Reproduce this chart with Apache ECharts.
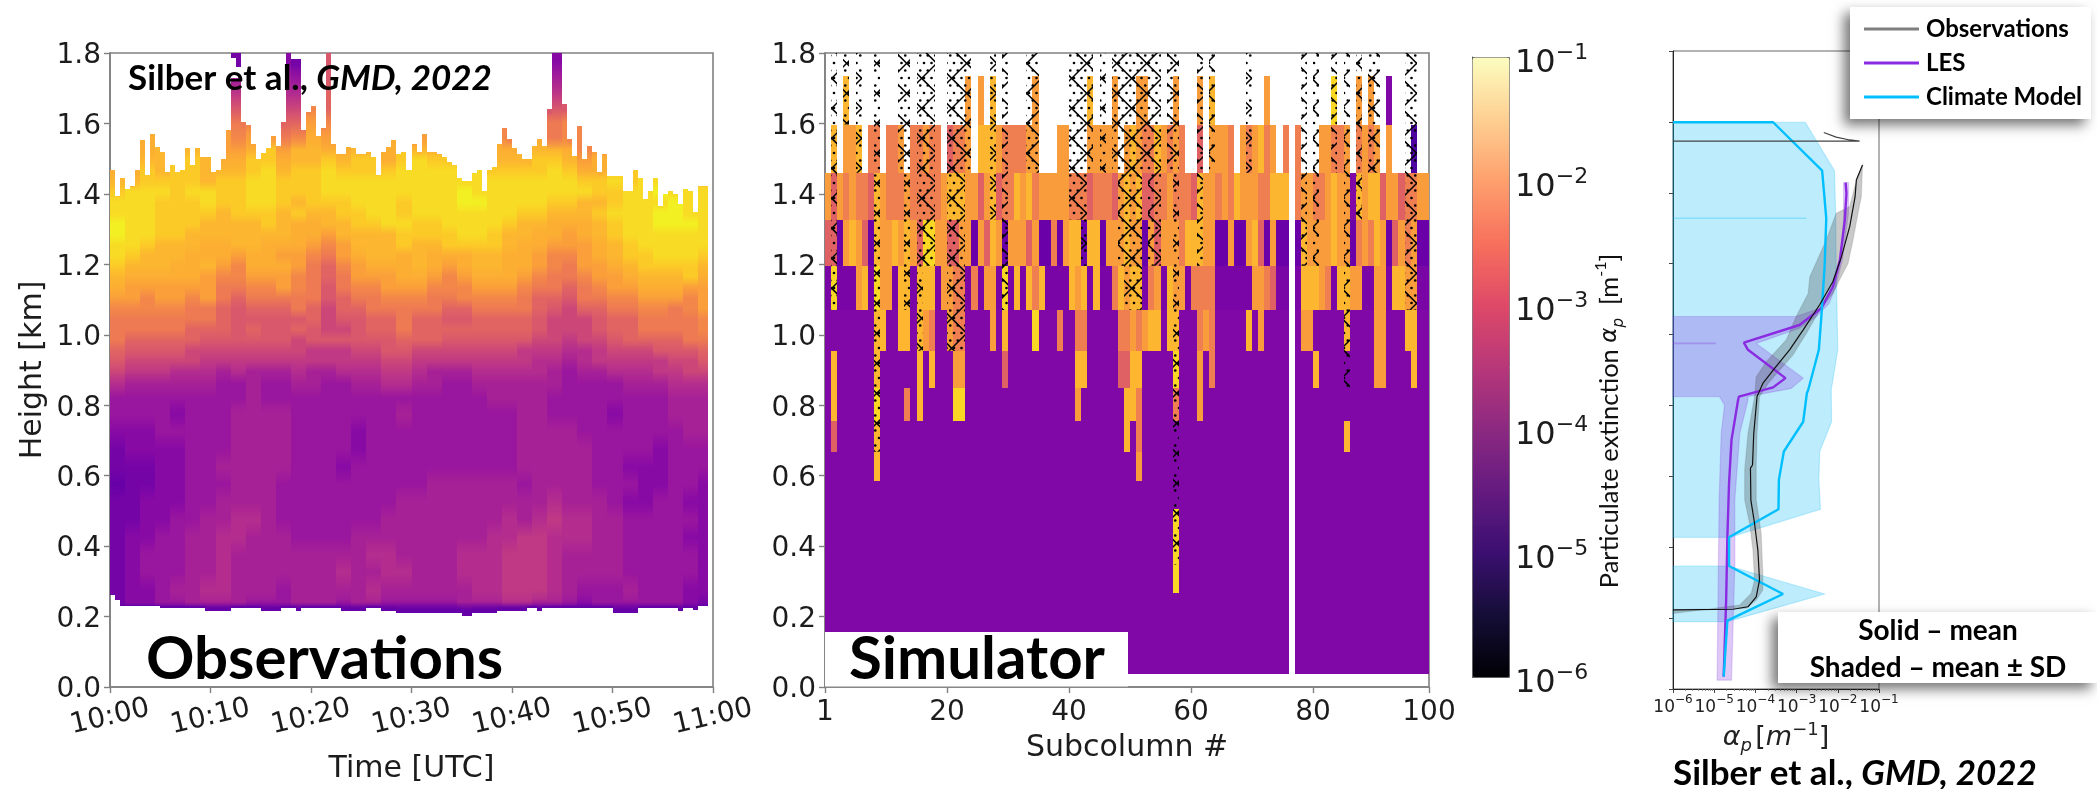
<!DOCTYPE html>
<html><head><meta charset="utf-8">
<style>html,body{margin:0;padding:0;background:#fff}#c{width:2097px;height:789px}</style>
<script src="https://cdn.jsdelivr.net/npm/echarts@6/dist/echarts.min.js"></script>
</head><body><div id="c"></div>
<script>
/* ---------- Observations panel ---------- */
const obsTimeTicks = ['10:00','10:10','10:20','10:30','10:40','10:50','11:00'];
const obsTop = [1.467,1.395,1.446,1.415,1.423,1.467,1.553,1.453,1.571,1.534,
1.519,1.461,1.483,1.461,1.467,1.529,1.483,1.529,1.505,1.505,
1.461,1.467,1.498,1.581,1.73,1.73,1.605,1.595,1.541,1.498,
1.515,1.529,1.565,1.536,1.603,1.8,1.782,1.782,1.581,1.633,
1.649,1.565,1.588,1.8,1.543,1.513,1.513,1.534,1.529,1.513,
1.513,1.519,1.505,1.453,1.519,1.534,1.553,1.513,1.519,1.469,
1.543,1.519,1.571,1.519,1.519,1.513,1.505,1.491,1.483,1.446,
1.437,1.437,1.460,1.467,1.408,1.469,1.475,1.541,1.588,1.557,
1.529,1.513,1.498,1.498,1.536,1.557,1.536,1.640,1.8,1.8,
1.655,1.557,1.507,1.593,1.498,1.536,1.519,1.463,1.513,1.451,
1.451,1.451,1.408,1.408,1.469,1.446,1.385,1.408,1.446,1.365,
1.401,1.408,1.401,1.371,1.415,1.408,1.349,1.423,1.423];
const obsBase = [.261,.247,.23,.23,.23,.23,.23,.23,.23,.23,
.224,.224,.224,.224,.224,.224,.224,.224,.224,.217,.217,.217,.217,.217,
.223,.223,.223,.223,.223,.223,.217,.217,.217,.217,.223,.223,.223,.217,
.223,.223,.223,.223,.223,.223,.223,.223,.217,.217,.217,.217,.217,
.223,.223,.223,.217,.217,.217,.209,.209,.209,.209,.209,.209,.209,.209,.209,.209,.209,.209,.209,
.202,.202,.209,.209,.209,.209,.209,.217,.217,.217,.217,.217,.217,.223,.223,.217,
.223,.223,.223,.223,.223,.223,.223,.223,.223,.223,.223,.223,.223,.223,
.209,.209,.209,.209,.209,.223,.223,.223,.223,.223,.223,.223,.223,.217,.223,.223,.22,.23,.23];
// height edges of the read-off rows, top to bottom
const obsRowEdges = [1.80,1.75,1.70,1.66,1.62,1.58,1.54,1.51,1.48,1.45,1.42,1.39,1.36,1.33,1.30,1.27,1.24,1.21,1.18,1.15,1.12,1.09,1.06,1.03,1.00,.97,.94,.91,.88,.84,.80,.75,.70,.65,.60,.55,.50,.45,.40,.35,.30,.25,.232,.195];
// letter -> log10(extinction)
const obsLetters = 'abcdefghijklmnopqr';
const obsLetterLog = [-5.05,-4.85,-4.6,-4.35,-4.15,-3.95,-3.75,-3.5,-3.2,-3.0,-2.65,-2.45,-2.1,-1.9,-1.8,-1.55,-1.35,-1.1];
// 40 groups of three time columns each
const obsGrid = [
"........b. .cb.i..... .........c ..........",
"........e. .ed.i..... .........e ..........",
"........g. .ff.j..... .........g ..........",
"........i. .hhlj..... .........i i.........",
"........kl .jjml..... .........k ll........",
"..n....mlm mklnm...n. m.....l.nk ll........",
"oonooonmmn pmoonnoonp ooooonnooo nlmnooooon",
"ppoopponnp pnoopoppnp qppppooopp omnoppppoo",
"nnpoppooop qoppqppppq qqqqqppppq pnnppqqpqq",
"ooppppoppq qpppqqqqqq qqqqqqqqqq qppqpqqqpp",
"pqqqpqqppq qpppqqqqqq qqqrqqqqqq qqppqqrqqq",
"qqqpppqppq qpopppqqqp qqqrrqqqqp poopqqqrqq",
"qqqppppopp popooppqqp qqqqqqqppo oopqqqrrqq",
"rqqpppoooo ponnooppqq ppqqqqpoon nnopqqrrrq",
"rqqppooooo oonnmoooop pppqqpoonn mnopqqqqqq",
"qqpooonnoo nnnmlmooop oopppponnm mmnopqqqqq",
"qpooonnnmn nmmlkmnoon onnnoonnml lmnoppqqqp",
"pooonnomln nnmkjlmnnn onmnoonnml kmmnoppppo",
"onnnnnmllm mmlkjkmmmn nmlmnnnmlk klmmnooopn",
"nmmmmmmkkl lmlkikllmm mlllmmmlkk jklmmnnnmm",
"mmlmmlmkjk kkkkijkkll lkkllllkjj ikkllmmmlm",
"lllllkkjij jjkjhjjkkk kkjjkkkkji hjjkkllklm",
"kkkkkkkjii iiijhiijjk jjiijjjjih hhijjkkkkl",
"kkkkkjjjij iijihhijjk jjjjjjjjih hhijjkkkkl",
"kjjjjjiiii iihiiiiiij jjiiiiiihh ghhijjjjkk",
"jiiiihhhhh hhhggghhii hhhhhhhggg ffghhhiiij",
"ihhhhhgggg gggggggghh ggggggggff efggggghhi",
"hgggfffefe eefeefffgg feeefffffe deefffgghh",
"feeeeeedde ddeeddeeff eeddeeeeee ddddeeefff",
"ddddddddde dddddddddd dddddeeeed dddddddeee",
"ddddcdddee eeddddddde dddddddeed dddcdddeee",
"cccdddddee eeddddcddd dddddddeee edddddddee",
"bccccdddee eeddddcddd dddddddeee eeddddcddd",
"bbbccddeee eedddcdddd dddddddeee eeddcccddd",
"abbccdddee eddddddddd deeeeeedee eedddccddc",
"bbcccddeee edddddddde eeeeeeeeef eeedccddcc",
"bbccddeeff edddddddee eeeeeefefg ffeedddddc",
"bccddeeffe eeddddeeee eeeeeffggf ffeeddddcc",
"bcdddeefee eeeeeeeffe eeefffgggf eeeedddddc",
"bcdddeefee eeeeefeeff eeefffgggf eeeedddddc",
"bccdeeffee edeeeeefee eeeeffgggf edddedddcc",
"bccddeeeed ddeeedeedd dddeeeffee dcddddddcb",
"aaaaaaaaaa aaaaaaaaaa aaaaaaaaaa aaaaaaaaaa"
];
// small detached pieces near the top of the first spike: column, bottom, top, log10
const obsIslandCol = [24,25];
const obsIslandBottom = [1.785,1.76];
const obsIslandTop = [1.8,1.8];
const obsIslandLog = [-4.85,-4.85];

/* ---------- Simulator panel ---------- */
const simTicks = [0,20,40,60,80,99];
const simTickText = {0:'1',20:'20',40:'40',60:'60',80:'80',99:'100'};
const simRowEdges = [1.736,1.597,1.46,1.327,1.196,1.07,.955,.849,.754,.668,.586,.506,.347,.267,.037];
const simLetters = 'puvdosyYr';
const simLetterLog = [-4.7,-4.8,-5.0,-5.35,-2.15,-2.6,-1.8,-1.4,-3.05];
const simRows = [
"...y...... .......... ...o.o.y.. ....o..... ...y...o.. .oo....o.. .o.y...... ..o....... ...Y...o.o ..p......",
".y.ooy.ss. sso.ssoss. rsso.yyyos sssoo...oo ...ooooo.o yossyosos. .r.ooos.os oyso.s.s.. .oosso.sos o.o...d..",
"orosossryo sssossssso yyyooroyrs syoysooooo sssrsssroy oyrrssosss ryoososyoo ossyyy.soo ssoyoopyoy yroorssoo",
"rrvoyorvyo oyoyorYYoo rroovoryov ooorovvsvo yyvyyvoooy oovorooosy yyoovvovvo yrvovv.vyo oooyoovsos yovrosovv",
"uYuuuoyuYo ouyyuyyyuo ossusuoouY uyuysyuuuu yoyuyuusyo yyusouyoou ssssuuuuuu oosruu.uyy yosuyyoouu oouyyoouu",
"ppppppppyy ppyypyospp ossppppopy ppppYpppsp psspppppss osoyypyypp psospppppy popppp.poo pppppypppp oopppyypp",
"pyppppppyp pppppypypp pooppppppr pppppppppp pyyppppprr yypppppYpp popspppppp pppppp.ppp yppppppppp ooppppypp",
"pyppppppYp pppspypppp pYYppppppp pppppppppp popppppppy yspppppspp popppppppp pppppp.ppp pppppppppp ppppppppp",
"prppppppyp pppppppppp pppppppppp pppppppppp pppppppppy pspppppppp pppppppppp pppppp.ppp pppppypppp ppppppppp",
"ppppppppyp pppppppppp pppppppppp pppppppppp pppppppppp popppppppp pppppppppp pppppp.ppp pppppppppp ppppppppp",
"pppppppppp pppppppppp pppppppppp pppppppppp pppppppppp pppppppppp pppppppppp pppppp.ppp pppppppppp ppppppppp",
"pppppppppp pppppppppp pppppppppp pppppppppp pppppppppp pppppppYpp pppppppppp pppppp.ppp pppppppppp ppppppppp",
"pppppppppp pppppppppp pppppppppp pppppppppp pppppppppp pppppppYpp pppppppppp pppppp.ppp pppppppppp ppppppppp",
"pppppppppp pppppppppp pppppppppp pppppppppp pppppppppp pppppppppp pppppppppp pppppp.ppp pppppppppp ppppppppp"
];
// hatched subcolumns: first column, last column, lowest height (all start at the panel top)
const hatchFrom   = [1,3,5,8,12,13,15,16,20,23,27,29,33,40,42,43,45,47,48,49,52,53,56,57,61,63,69,78,80,83,85,87,89,95];
const hatchTo     = [1,3,5,8,12,13,15,17,22,23,27,29,34,41,42,43,45,47,48,51,52,54,56,57,61,63,69,78,80,83,85,87,90,96];
const hatchBottom = [1.07,1.597,1.46,.668,1.46,1.07,.955,1.196,.955,1.46,1.327,1.07,1.46,1.327,1.196,1.46,1.46,1.46,1.196,1.07,1.46,1.196,1.46,.347,1.196,1.46,1.46,1.196,1.196,1.46,.849,1.327,1.46,1.07];

/* ---------- Profile panel: log10(extinction) and height [km] ---------- */
const obsMeanLog = [-1.40,-1.55,-1.58,-1.71,-1.91,-2.12,-2.44,-2.84,-3.17,-3.53,-3.82,-3.96,-4.04,-4.07,-4.12,-4.11,-4.02,-3.94,-3.90,-3.98,-4.18,-4.54,-6];
const obsMeanH   = [1.4785,1.436,1.389,1.305,1.220,1.149,1.084,1.013,.957,.905,.862,.825,.721,.632,.623,.533,.467,.392,.307,.260,.232,.225,.223];
const obsUpperLog = [-2.34,-2.04,-1.71,-1.47,-6];
const obsUpperH   = [1.570,1.557,1.549,1.546,1.546];
const obsBandLog = [-1.40,-1.43,-1.51,-1.63,-1.75,-1.96,-2.12,-2.44,-2.76,-3.09,-3.41,-3.69,-3.90,-3.96,-3.98,-3.98,-3.86,-3.82,-3.82,-3.98,-4.22,-6,-6,-4.38,-4.10,-4.02,-4.06,-4.14,-4.26,-4.26,-4.18,-4.02,-3.98,-3.73,-3.25,-3.01,-2.72,-2.68,-2.28,-2.04,-1.71,-1.59];
const obsBandH   = [1.478,1.389,1.342,1.267,1.201,1.154,1.116,1.069,1.004,.942,.900,.862,.825,.721,.627,.533,.439,.326,.279,.251,.228,.223,.213,.237,.270,.307,.392,.467,.533,.618,.721,.825,.881,.924,.985,1.051,1.116,1.163,1.267,1.342,1.361,1.417];
const lesMeanLog = [-1.81,-1.79,-1.83,-1.95,-2.12,-2.40,-2.93,-4.28,-4.18,-3.27,-3.57,-4.40,-4.42,-4.58,-4.64,-4.68,-4.71,-4.77];
const lesMeanH   = [1.4286,1.398,1.323,1.210,1.135,1.074,1.027,.977,.957,.877,.851,.825,.8155,.703,.580,.428,.252,.035];
const lesBandLog = [-6,-3.01,-2.44,-2.12,-1.94,-1.86,-1.86,-1.74,-1.74,-1.89,-2.05,-2.21,-2.52,-2.93,-3.98,-2.84,-3.13,-4.18,-4.18,-4.38,-4.50,-4.50,-4.58,-4.93,-4.88,-4.83,-4.75,-4.87,-6];
const lesBandH   = [1.051,1.051,1.074,1.135,1.210,1.323,1.429,1.429,1.342,1.210,1.135,1.088,1.051,1.018,.975,.877,.848,.825,.815,.721,.533,.345,.025,.025,.533,.721,.801,.825,.825];
const lesFaintLog = [-6,-4.96];
const lesFaintH   = [.975,.975];
const modelMeanLog = [-6,-3.57,-2.38,-2.28,-2.32,-2.40,-2.46,-2.72,-2.75,-2.84,-3.31,-3.43,-3.44,-4.64,-4.64,-3.33,-4.68,-4.77];
const modelMeanH   = [1.599,1.599,1.4625,1.328,1.192,1.05,.957,.843,.835,.754,.670,.59,.507,.428,.347,.268,.193,.035];
const modelBandALog = [-6,-2.79,-2.08,-2.05,-2.04,-2.0,-2.16,-2.15,-2.44,-2.46,-2.42,-4.62,-6];
const modelBandAH   = [1.599,1.599,1.4625,1.328,1.192,.957,.843,.754,.670,.59,.507,.428,.428];
const modelBandBLog = [-6,-4.64,-2.32,-4.68,-6];
const modelBandBH   = [.347,.347,.268,.19,.19];
const modelFaintLog = [-6,-2.76];
const modelFaintH   = [1.328,1.328];

/* ---------- colour scales ---------- */
const plasmaStops = ['#0d0887','#41049d','#6a00a8','#8f0da4','#b12a90','#cc4778','#e16462','#f2844b','#fca636','#fcce25','#f0f921'];
const magmaStops  = ['#000004','#140e36','#3b0f70','#641a80','#8c2981','#b73779','#de4968','#f7705c','#fe9f6d','#fecf92','#fcfdbf'];

/* ---------- build series data ---------- */
const clean = s => s.replace(/ /g,'');
const obsCells = [];
const obsClean = obsGrid.map(clean);
for (let c = 0; c < obsTop.length; c++) {
  const g = Math.floor(c/3);
  for (let r = 0; r < obsClean.length; r++) {
    const hi = Math.min(obsRowEdges[r], obsTop[c]);
    const lo = Math.max(obsRowEdges[r+1], obsBase[c]);
    if (hi <= lo) continue;
    let k = obsLetters.indexOf(obsClean[r].charAt(g));
    // a column top poking above the read-off row uses the nearest letter below
    for (let q = r+1; q < obsClean.length && k < 0; q++) k = obsLetters.indexOf(obsClean[q].charAt(g));
    if (k >= 0) obsCells.push([c*0.5,(c+1)*0.5,lo,hi,obsLetterLog[k]]);
  }
}
obsIslandCol.forEach((c,i)=>obsCells.push([c*0.5,(c+1)*0.5,obsIslandBottom[i],obsIslandTop[i],obsIslandLog[i]]));
const simCells = [];
simRows.map(clean).forEach((row,r)=>{
  for (let c = 0; c < 99; c++) {
    const k = simLetters.indexOf(row.charAt(c));
    if (k >= 0) simCells.push([c,c+1,simRowEdges[r+1],simRowEdges[r],simLetterLog[k]]);
  }
});
const hatchCells = hatchFrom.map((f,i)=>[f,hatchTo[i]+1,hatchBottom[i],1.8]);
const pairs = (lg,h) => lg.map((v,i)=>[Math.pow(10,v),h[i]]);

/* ---------- hatch tile: dots and crossing diagonals ---------- */
const tile = document.createElement('canvas');
tile.width = 30; tile.height = 30;
(function(){
  const t = tile.getContext('2d');
  t.fillStyle = '#000';
  for (let j=0;j<4;j++) for (let i=0;i<4;i++) {
    t.beginPath();
    t.arc((i*7.5+(j%2)*3.75+1.5)%30,(j*7.5+3)%30,1.3,0,7);
    t.fill();
  }
  t.strokeStyle = '#000'; t.lineWidth = 1.5;
  const cx=21.7, cy=18.3;
  for (let k=-2;k<=2;k++) {
    t.beginPath(); t.moveTo(cx-60+k*30,cy-60); t.lineTo(cx+60+k*30,cy+60); t.stroke();
    t.beginPath(); t.moveTo(cx-60+k*30,cy+60); t.lineTo(cx+60+k*30,cy-60); t.stroke();
  }
})();

function cellSeries(cells, xi, yi, shaded){
  return {type:'custom', xAxisIndex:xi, yAxisIndex:yi, silent:true, clip:true, progressive:0,
    data:cells, dimensions:['x0','x1','lo','hi','v'],
    encode:{x:[0,1],y:[2,3]},
    renderItem(p,api){
      const a=api.coord([api.value(0),api.value(3)]), b=api.coord([api.value(1),api.value(2)]);
      const x0=Math.round(a[0]),x1=Math.round(b[0]),y0=Math.round(a[1]),y1=Math.round(b[1]);
      let fill=api.visual('color');
      if (shaded && y1-y0>2) {
        const i=p.dataIndex, me=cells[i], up=cells[i-1], dn=cells[i+1];
        const cu=(up&&up[0]===me[0]&&up[2]===me[3])?echarts.color.lerp(.5,[fill,api.visual('color',i-1)]):fill;
        const cd=(dn&&dn[0]===me[0]&&dn[3]===me[2])?echarts.color.lerp(.5,[fill,api.visual('color',i+1)]):fill;
        fill={type:'linear',x:0,y:0,x2:0,y2:1,colorStops:[{offset:0,color:cu},{offset:.5,color:fill},{offset:1,color:cd}]};
      }
      return {type:'rect',shape:{x:x0,y:y0,width:x1-x0,height:y1-y0},style:{fill:fill}};
    }};
}
function polygonSeries(lg,h,fill,stroke){
  const pts = pairs(lg,h);
  return {type:'custom', xAxisIndex:2, yAxisIndex:2, silent:true, data:[[1e-3,1]], z:2,
    renderItem(p,api){
      return {type:'polygon',shape:{points:pts.map(q=>api.coord(q))},style:{fill:fill,stroke:stroke,lineWidth:1.2}};
    }};
}
function lineSeries(name,lg,h,color,width,z){
  return {type:'line',name:name,xAxisIndex:2,yAxisIndex:2,data:pairs(lg,h),showSymbol:false,symbol:'none',
    silent:true,z:z||3,lineStyle:{color:color,width:width},itemStyle:{color:color},connectNulls:false};
}
const tickFont = {fontFamily:'DejaVu Sans',fontSize:28,color:'#1c1c1c'};
const nameFont = {fontFamily:'DejaVu Sans',fontSize:30,color:'#1c1c1c'};
const grey = {lineStyle:{color:'#808080',width:1.6}};
const powLabel = v => '{b|10}{s|\u2212'+Math.abs(Math.round(Math.log10(v)))+'}';
const fullRich = {b:{fontFamily:'DejaVu Sans',fontSize:32,color:'#1c1c1c',lineHeight:38,verticalAlign:'bottom'},
                  s:{fontFamily:'DejaVu Sans',fontSize:22,color:'#1c1c1c',lineHeight:38,verticalAlign:'top'}};
const smallRich = {b:{fontFamily:'DejaVu Sans',fontSize:17,color:'#222',lineHeight:22,verticalAlign:'bottom'},
                   s:{fontFamily:'DejaVu Sans',fontSize:12,color:'#222',lineHeight:22,verticalAlign:'top'}};
const heightLabel = {margin:9,padding:[6,0,0,0],formatter:v=>'{a|'+v.toFixed(1)+'}',
                     rich:{a:Object.assign({lineHeight:30},tickFont)}};

const bold = 'Lato';
const titleRich = {a:{fontFamily:bold,fontWeight:'bold',fontSize:35,color:'#000'},
                   b:{fontFamily:bold,fontWeight:'bold',fontStyle:'italic',fontSize:35,color:'#000'}};
const noteStyle = {fontFamily:bold,fontWeight:'bold',fontSize:28,fill:'#000',textAlign:'center',textVerticalAlign:'middle'};
const option = {
  animation:false, backgroundColor:'#fff',
  grid:[
    {outerBoundsMode:'none',containLabel:false,left:110,top:53,width:603,height:634,show:true,borderColor:'#808080',borderWidth:1.6,backgroundColor:'#fff'},
    {outerBoundsMode:'none',containLabel:false,left:825,top:53,width:604,height:634,show:true,borderColor:'#808080',borderWidth:1.6,backgroundColor:'#fff'},
    {outerBoundsMode:'none',containLabel:false,left:1673,top:51,width:206,height:638,show:true,borderColor:'#666',borderWidth:1,backgroundColor:'#fff'},
    {outerBoundsMode:'none',containLabel:false,left:1472,top:57,width:37,height:620,show:false}
  ],
  xAxis:[
    {gridIndex:0,type:'value',min:0,max:60,interval:10,splitLine:{show:false},axisLine:grey,
     axisTick:{length:6,lineStyle:{color:'#808080',width:1.4}},
     axisLabel:Object.assign({},tickFont,{rotate:13,align:'center',verticalAlign:'middle',margin:30,hideOverlap:false,
       formatter:v=>obsTimeTicks[v/10]}),
     name:'Time [UTC]',nameLocation:'middle',nameGap:67,nameTextStyle:nameFont},
    {gridIndex:1,type:'value',min:0,max:99,splitLine:{show:false},axisLine:grey,
     axisTick:{length:6,customValues:simTicks,lineStyle:{color:'#808080',width:1.4}},
     axisLabel:Object.assign({},tickFont,{customValues:simTicks,margin:12,formatter:v=>simTickText[v]}),
     name:'Subcolumn #',nameLocation:'middle',nameGap:46,nameTextStyle:nameFont},
    {gridIndex:2,type:'log',logBase:10,min:1e-6,max:1e-1,splitLine:{show:false},
     axisLine:{lineStyle:{color:'#222',width:1}},
     axisTick:{length:4,lineStyle:{color:'#444',width:1}},
     minorTick:{show:true,splitNumber:9,length:2,lineStyle:{color:'#777',width:.8}},
     axisLabel:{margin:5,hideOverlap:false,formatter:powLabel,rich:smallRich},
     name:'{a|\u03b1}{u|p} {t|[}{i|m}{v|\u22121}{t|]}',nameLocation:'middle',nameGap:31,
     nameTextStyle:{rich:{
       a:{fontFamily:'DejaVu Sans',fontStyle:'italic',fontSize:27,color:'#222',lineHeight:34},
       u:{fontFamily:'DejaVu Sans',fontStyle:'italic',fontSize:18,color:'#222',lineHeight:34,verticalAlign:'bottom'},
       t:{fontFamily:'DejaVu Sans',fontSize:27,color:'#222',lineHeight:34},
       i:{fontFamily:'DejaVu Sans',fontStyle:'italic',fontSize:27,color:'#222',lineHeight:34},
       v:{fontFamily:'DejaVu Sans',fontSize:18,color:'#222',lineHeight:34,verticalAlign:'top'}}}},
    {gridIndex:3,type:'value',min:0,max:1,show:false}
  ],
  yAxis:[
    {gridIndex:0,type:'value',min:0,max:1.8,interval:.2,splitLine:{show:false},axisLine:grey,
     axisTick:{length:6,lineStyle:{color:'#808080',width:1.4}},
     axisLabel:heightLabel,
     name:'Height [km]',nameLocation:'middle',nameGap:62,nameTextStyle:nameFont},
    {gridIndex:1,type:'value',min:0,max:1.8,interval:.2,splitLine:{show:false},axisLine:grey,
     axisTick:{length:6,lineStyle:{color:'#808080',width:1.4}},
     axisLabel:heightLabel},
    {gridIndex:2,type:'value',min:0,max:1.8,interval:.2,splitLine:{show:false},
     axisLine:{lineStyle:{color:'#222',width:1}},
     axisTick:{length:4,lineStyle:{color:'#444',width:1}},axisLabel:{show:false}},
    {gridIndex:3,type:'log',logBase:10,min:1e-6,max:1e-1,position:'right',splitLine:{show:false},
     axisLine:{show:true,lineStyle:{color:'#666',width:1}},
     axisTick:{length:5,lineStyle:{color:'#444',width:1}},
     minorTick:{show:true,splitNumber:9,length:3,lineStyle:{color:'#777',width:.8}},
     axisLabel:{margin:6,padding:[8,0,0,0],hideOverlap:false,formatter:powLabel,rich:fullRich}}
  ],
  visualMap:[
    {type:'continuous',show:false,min:-6,max:-1,dimension:4,seriesIndex:[0,1],inRange:{color:plasmaStops}},
    {type:'continuous',show:true,min:0,max:1,seriesIndex:[2],dimension:0,calculable:false,realtime:false,hoverLink:false,
     left:1472,top:57,itemWidth:37,itemHeight:620,padding:0,text:null,showLabel:false,
     textStyle:{color:'transparent',fontSize:0},inRange:{color:magmaStops},
     borderColor:'#666',borderWidth:1}
  ],
  legend:{left:1850,top:7,orient:'vertical',z:200,
    data:[{name:'Observations',itemStyle:{color:'#7f7f7f'}},{name:'LES'},{name:'Climate Model'}],
    icon:'rect',itemWidth:55,itemHeight:3,itemGap:10,padding:[10,9,10,14],selectedMode:false,
    backgroundColor:'#fff',shadowBlur:12,shadowOffsetX:-6,shadowOffsetY:6,shadowColor:'rgba(0,0,0,.55)',
    textStyle:{fontFamily:'Lato',fontWeight:'bold',fontSize:24,color:'#000',padding:[0,0,0,2]}},
  graphic:{elements:[
    {type:'text',z:100,left:128,top:61,style:{text:'{a|Silber et al., }{b|GMD, 2022}',rich:titleRich,fill:'#000'}},
    {type:'text',z:100,left:146,top:630,style:{text:'Observations',fontFamily:bold,fontWeight:'bold',fontSize:60,fill:'#000'}},
    {type:'rect',z:90,shape:{x:825,y:632,width:303,height:54.5},style:{fill:'#fff'},silent:true},
    {type:'text',z:100,left:849,top:630,style:{text:'Simulator',fontFamily:bold,fontWeight:'bold',fontSize:60,fill:'#000'}},
    {type:'rect',z:90,shape:{x:1778,y:612,width:319,height:71},silent:true,
      style:{fill:'#fff',shadowBlur:12,shadowOffsetX:-6,shadowOffsetY:6,shadowColor:'rgba(0,0,0,.55)'}},
    {type:'text',z:100,x:1938,y:631,style:Object.assign({text:'Solid \u2013 mean'},noteStyle)},
    {type:'text',z:100,x:1938,y:668,style:Object.assign({text:'Shaded \u2013 mean \u00b1 SD'},noteStyle)},
    {type:'text',z:100,left:1673,top:756,style:{text:'{a|Silber et al., }{b|GMD, 2022}',rich:titleRich,fill:'#000'}},
    {type:'text',z:100,x:1610,y:421,rotation:Math.PI/2,silent:true,
     style:{text:'{t|Particulate extinction }{a|\u03b1}{u|p}{t|  [m}{v|-1}{t|]}',textAlign:'center',textVerticalAlign:'middle',
       rich:{t:{fontFamily:'Lato',fontSize:25.5,fill:'#111',lineHeight:34},
             a:{fontFamily:'DejaVu Sans',fontStyle:'italic',fontSize:23,fill:'#111',lineHeight:34},
             u:{fontFamily:'DejaVu Sans',fontStyle:'italic',fontSize:15,fill:'#111',lineHeight:34,verticalAlign:'bottom'},
             v:{fontFamily:'Lato',fontSize:16,fill:'#111',lineHeight:34,verticalAlign:'top'}}}}
  ]},
  series:[
    cellSeries(obsCells,0,0,true),
    cellSeries(simCells,1,1,false),
    {type:'custom',xAxisIndex:3,yAxisIndex:3,silent:true,data:[],renderItem(){return null;}},
    {type:'custom',xAxisIndex:1,yAxisIndex:1,silent:true,clip:true,data:hatchCells,z:3,progressive:0,
     encode:{x:[0,1],y:[2,3]},
     renderItem(p,api){
       const a=api.coord([api.value(0),api.value(3)]), b=api.coord([api.value(1),api.value(2)]);
       return {type:'rect',shape:{x:Math.round(a[0]),y:a[1],width:Math.round(b[0])-Math.round(a[0]),height:b[1]-a[1]},style:{fill:{image:tile,repeat:'repeat'}}};
     }},
    polygonSeries(modelBandALog,modelBandAH,'rgba(0,180,245,.26)','rgba(0,180,245,.22)'),
    polygonSeries(modelBandBLog,modelBandBH,'rgba(0,180,245,.26)','rgba(0,180,245,.22)'),
    polygonSeries(lesBandLog,lesBandH,'rgba(130,50,220,.27)','rgba(130,50,220,.2)'),
    polygonSeries(obsBandLog,obsBandH,'rgba(60,60,60,.28)','rgba(60,60,60,.15)'),
    lineSeries('modelFaint',modelFaintLog,modelFaintH,'rgba(0,190,250,.28)',1.6),
    lineSeries('lesFaint',lesFaintLog,lesFaintH,'rgba(130,50,220,.3)',1.6),
    lineSeries('LES',lesMeanLog,lesMeanH,'#8a2be2',2.4,4),
    lineSeries('Climate Model',modelMeanLog,modelMeanH,'#00bfff',2.4,5),
    lineSeries('Observations',obsMeanLog,obsMeanH,'#111',1.2,6),
    lineSeries('obsUpper',obsUpperLog,obsUpperH,'#444',1.2,6)
  ]
};
const chart = echarts.init(document.getElementById('c'),null,{renderer:'canvas',width:2097,height:789});
chart.setOption(option);
</script></body></html>
